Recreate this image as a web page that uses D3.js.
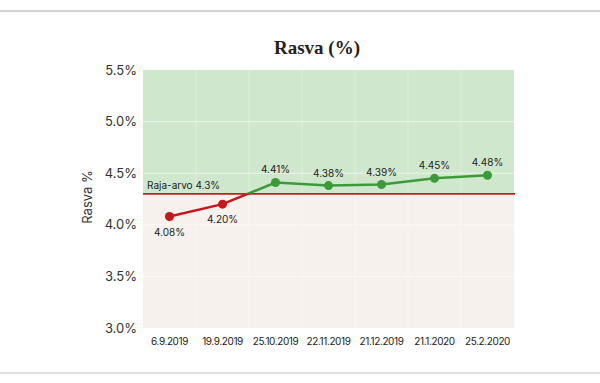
<!DOCTYPE html>
<html><head><meta charset="utf-8">
<script src="https://cdn.jsdelivr.net/npm/d3@7"></script>
<style>body{margin:0;background:#fff}svg{display:block}</style>
</head><body>
<svg id="c" width="600" height="383"></svg>
<script>
const categories = ["6.9.2019","19.9.2019","25.10.2019","22.11.2019","21.12.2019","21.1.2020","25.2.2020"];
const values = [4.08, 4.20, 4.41, 4.38, 4.39, 4.45, 4.48];
const yTicks = [3.0, 3.5, 4.0, 4.5, 5.0, 5.5];
const threshold = 4.3;
const thresholdLabel = "Raja-arvo 4.3%";
const title = "Rasva (%)";
const yLabel = "Rasva %";

const svg = d3.select("#c");
const L = 143, R = 514, T = 70, B = 328;
const x = d3.scaleBand().domain(categories).range([L, R]);
const y = d3.scaleLinear().domain([3.0, 5.5]).range([B, T]);
const RED = "#c8161d", GREEN = "#3b9b3b";

// frame lines
svg.append("line").attr("x1",0).attr("x2",600).attr("y1",11).attr("y2",11).attr("stroke","#c4c4c4").attr("stroke-width",1.5);
svg.append("line").attr("x1",0).attr("x2",600).attr("y1",373).attr("y2",373).attr("stroke","#d4d4d4").attr("stroke-width",1.5);

// background zones
svg.append("rect").attr("x",L).attr("y",T).attr("width",R-L).attr("height",y(threshold)-T).attr("fill","#cfe8cd");
svg.append("rect").attr("x",L).attr("y",y(threshold)).attr("width",R-L).attr("height",B-y(threshold)).attr("fill","#f6f1ec");

// faint grid
svg.append("g").selectAll("line").data(categories.slice(1)).join("line")
  .attr("x1",d=>x(d)).attr("x2",d=>x(d)).attr("y1",T).attr("y2",B)
  .attr("stroke","#ffffff").attr("stroke-opacity",0.3).attr("stroke-width",1);
svg.append("g").selectAll("line").data(yTicks.slice(1,-1)).join("line")
  .attr("x1",L).attr("x2",R).attr("y1",d=>y(d)).attr("y2",d=>y(d))
  .attr("stroke","#ffffff").attr("stroke-opacity",0.55).attr("stroke-width",1);

// y axis
const yAxis = d3.axisLeft(y).tickValues(yTicks).tickFormat(d=>d.toFixed(1)+"%").tickSize(0).tickPadding(6);
const ga = svg.append("g").attr("transform",`translate(${L},0)`).call(yAxis);
ga.select(".domain").remove();
ga.selectAll("text").attr("font-family","Inter, 'Noto Sans', sans-serif").attr("font-size",13).attr("fill","#333");

// x axis
const xAxis = d3.axisBottom(x).tickSize(0).tickPadding(8);
const gx = svg.append("g").attr("transform",`translate(0,${B})`).call(xAxis);
gx.select(".domain").remove();
gx.selectAll("text").attr("font-family","Inter, 'Noto Sans', sans-serif").attr("font-size",10).attr("fill","#222").attr("letter-spacing","-0.4").attr("dy","0.9em");

// y label
svg.append("text").attr("transform",`translate(92,${(T+B)/2-2}) rotate(-90)`).attr("text-anchor","middle")
  .attr("font-family","Inter, 'Noto Sans', sans-serif").attr("font-size",13).attr("fill","#333").text(yLabel);

// title
svg.append("text").attr("x",317).attr("y",54).attr("text-anchor","middle")
  .attr("font-family","'Liberation Serif', serif").attr("font-weight","bold").attr("font-size",19).attr("fill","#222").text(title);

// threshold line
svg.append("line").attr("x1",L).attr("x2",R+1).attr("y1",y(threshold)).attr("y2",y(threshold)).attr("stroke","#c0201e").attr("stroke-width",1.6);
svg.append("text").attr("x",L+4).attr("y",y(threshold)-5).attr("font-family","Inter, 'Noto Sans', sans-serif").attr("font-size",10).attr("fill","#222").text(thresholdLabel);

// clip paths
const defs = svg.append("defs");
defs.append("clipPath").attr("id","above").append("rect").attr("x",0).attr("y",0).attr("width",600).attr("height",y(threshold));
defs.append("clipPath").attr("id","below").append("rect").attr("x",0).attr("y",y(threshold)).attr("width",600).attr("height",383);

const pts = categories.map((c,i)=>({c, v:values[i]}));
const line = d3.line().x(d=>x(d.c)+x.bandwidth()/2).y(d=>y(d.v));
svg.append("path").datum(pts).attr("d",line).attr("fill","none").attr("stroke",GREEN).attr("stroke-width",2.5).attr("clip-path","url(#above)");
svg.append("path").datum(pts).attr("d",line).attr("fill","none").attr("stroke",RED).attr("stroke-width",2.5).attr("clip-path","url(#below)");

svg.append("g").selectAll("circle").data(pts).join("circle")
  .attr("cx",d=>x(d.c)+x.bandwidth()/2).attr("cy",d=>y(d.v)).attr("r",4.5)
  .attr("fill",d=>d.v<threshold?RED:GREEN);

svg.append("g").selectAll("text").data(pts).join("text")
  .attr("x",d=>x(d.c)+x.bandwidth()/2).attr("y",d=>d.v<threshold? y(d.v)+19 : y(d.v)-9)
  .attr("text-anchor","middle").attr("font-family","Inter, 'Noto Sans', sans-serif").attr("font-size",10).attr("fill","#222")
  .text(d=>d.v.toFixed(2)+"%");
</script>
</body></html>
